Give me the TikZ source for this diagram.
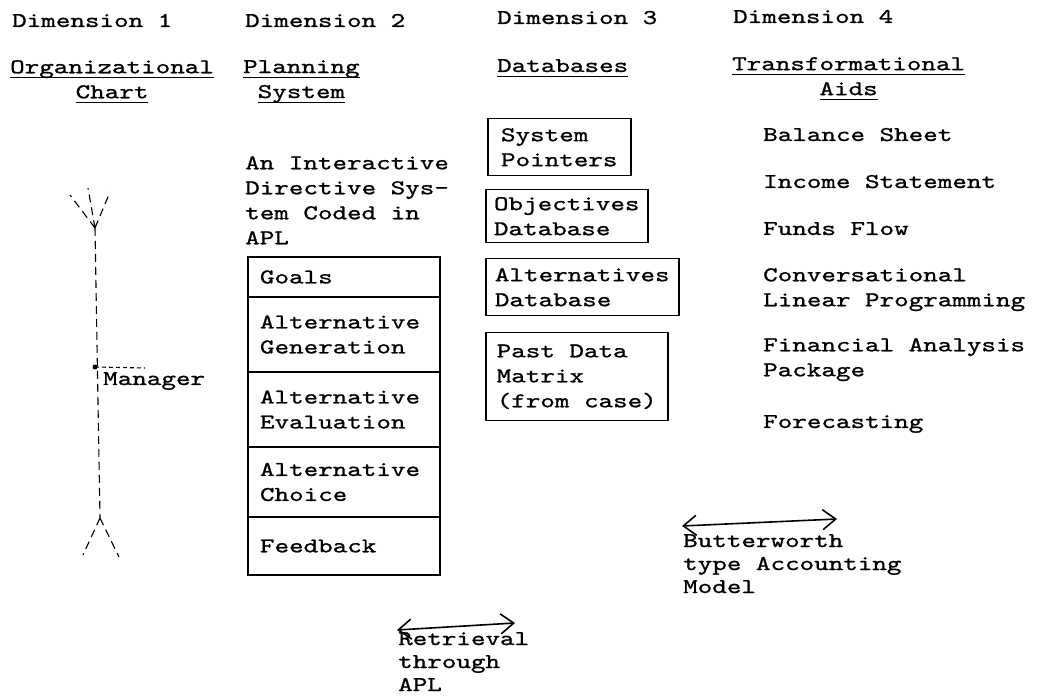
\documentclass[tikz,border=0pt]{standalone}
\usepackage{fontspec}
\newfontfamily\typewr[FakeStretch=1.32,FakeBold=1.0]{lmmono10-regular.otf}
\usetikzlibrary{positioning,arrows.meta}
\newcommand{\undl}[1]{\sbox0{#1}\rlap{\rule[-5pt]{\wd0}{1.3pt}}\usebox0}
\tikzset{
  txt/.style={font=\typewr\fontsize{21}{25}\selectfont, inner sep=0pt, align=left},
  dbbox/.style={txt, draw, line width=1.5pt, anchor=north west, inner sep=5pt},
  planbox/.style={txt, draw, line width=1.5pt, outer sep=0pt, text width=168pt, inner xsep=12pt, inner ysep=0pt},
  tree/.style={line width=1.1pt, dash pattern=on 8pt off 5pt},
  link/.style={line width=1.6pt, >={Straight Barb[length=13pt,width=20pt,line width=1.6pt]}, <->}
}
\begin{document}
\begin{tikzpicture}[x=1pt,y=-1pt]
\useasboundingbox (0,0) rectangle (1039,700);
% headings
\node[txt, anchor=base west] (dimA) at (12,27) {Dimension 1};
\node[txt, anchor=base west] (dimB) at (245,27) {Dimension 2};
\node[txt, anchor=base west] (dimC) at (497,24) {Dimension 3};
\node[txt, anchor=base west] (dimD) at (733,23) {Dimension 4};
\node[txt, align=center, anchor=north west] (orgchart) at (10,60) {\undl{Organizational}\\\undl{Chart}};
\node[txt, align=center, anchor=north west] (plansys) at (243,60) {\undl{Planning}\\\undl{System}};
\node[txt, anchor=base west] (dbases) at (497,72) {\undl{Databases}};
\node[txt, align=center, anchor=north west] (transaids) at (732,57) {\undl{Transformational}\\\undl{Aids}};
% dimension 1
\coordinate (treetop) at (95,228);
\coordinate (treebot) at (100,518);
\coordinate (mgr) at (95,367);
\coordinate (mgrend) at (145,368);
\draw[tree] (treetop) -- (70,195) (treetop) -- (88,188) (treetop) -- (110,192);
\draw[tree] (treetop) -- (treebot);
\draw[tree] (treebot) -- (83,555) (treebot) -- (119,557);
\fill (mgr) circle (2.5pt);
\draw[tree, dash pattern=on 4pt off 3pt] (mgr) -- (mgrend);
\node[txt, anchor=base west] (manager) at (103,385) {Manager};
% dimension 2
\node[txt, anchor=north west] (idsys) at (245,156) {An Interactive\\Directive Sys-\\tem Coded in\\APL};
\node[planbox, anchor=north west, minimum height=40pt] (goals) at (248,257) {Goals};
\node[planbox, below=0pt of goals, minimum height=75pt] (altgen) {Alternative\\Generation};
\node[planbox, below=0pt of altgen, minimum height=75pt] (alteval) {Alternative\\Evaluation};
\node[planbox, below=0pt of alteval, minimum height=70pt] (altchoice) {Alternative\\Choice};
\node[planbox, below=0pt of altchoice, minimum height=58pt] (feedback) {Feedback};
% dimension 3
\node[dbbox, minimum width=143pt, minimum height=57pt] (sysptr) at (487,118) {System\\Pointers};
\node[dbbox, minimum width=162pt, minimum height=53pt] (objdb) at (485,189) {Objectives\\Database};
\node[dbbox, minimum width=193pt, minimum height=57pt] (altdb) at (485,258) {Alternatives\\Database};
\node[dbbox, minimum width=182pt, minimum height=88pt] (pastdata) at (485,332) {Past Data\\Matrix\\(from case)};
% dimension 4
\node[txt, anchor=base west] (balance) at (763,141) {Balance Sheet};
\node[txt, anchor=base west] (income) at (763,188) {Income Statement};
\node[txt, anchor=base west] (funds) at (763,235) {Funds Flow};
\node[txt, anchor=north west] (convlp) at (763,268) {Conversational\\Linear Programming};
\node[txt, anchor=north west] (finpkg) at (763,338) {Financial Analysis\\Package};
\node[txt, anchor=base west] (forecast) at (763,428) {Forecasting};
% links
\coordinate (retL) at (397,630);
\coordinate (retR) at (515,623);
\draw[link] (retL) -- (retR);
\node[txt, font=\typewr\fontsize{21}{23}\selectfont, anchor=north west] (retrieval) at (398,632) {Retrieval\\through\\APL};
\coordinate (butL) at (682,526);
\coordinate (butR) at (837,519);
\draw[link] (butL) -- (butR);
\node[txt, font=\typewr\fontsize{21}{23}\selectfont, anchor=north west] (butter) at (683,534) {Butterworth\\type Accounting\\Model};
\end{tikzpicture}
\end{document}
